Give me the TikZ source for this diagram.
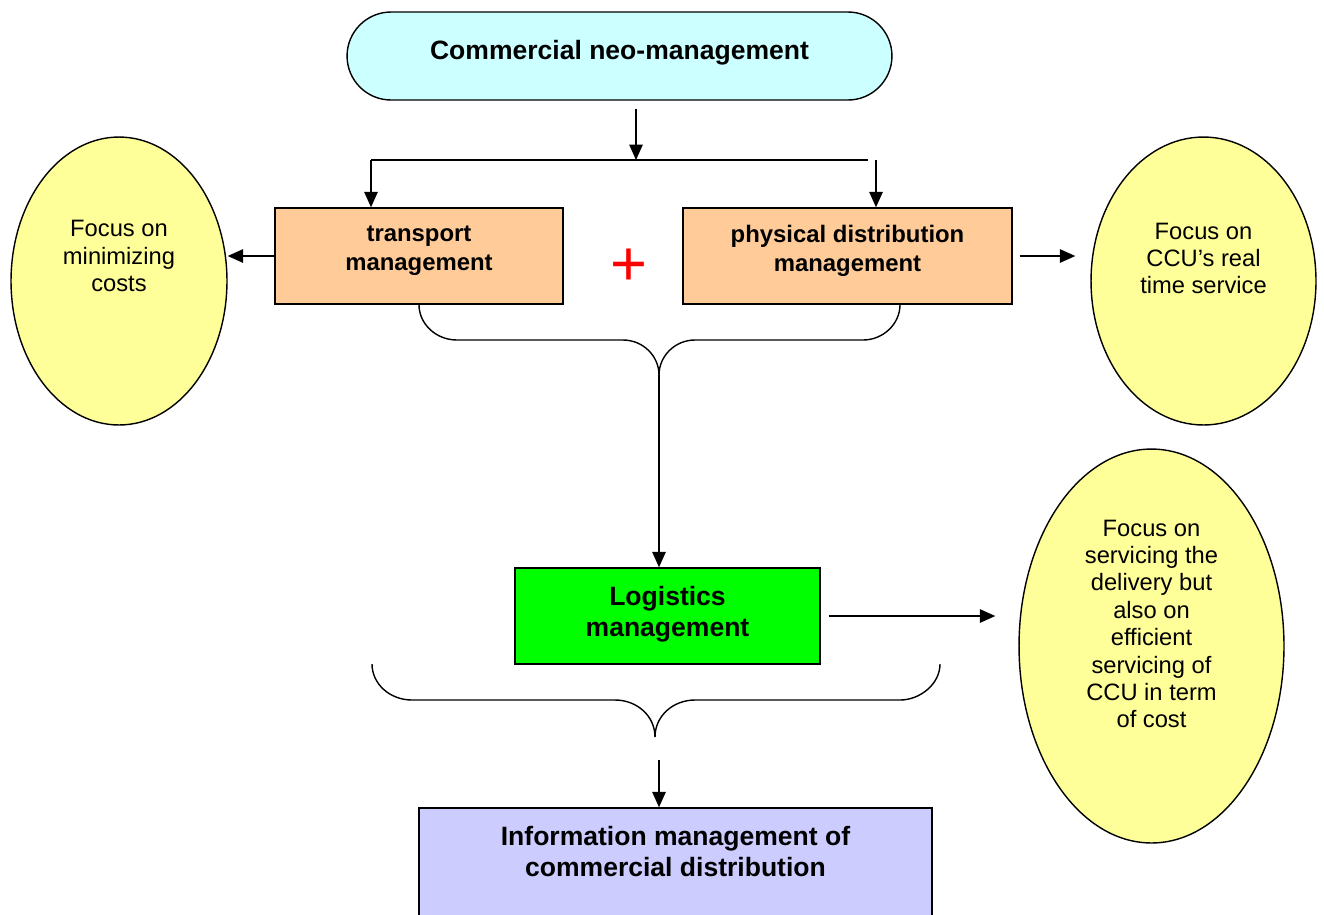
\documentclass[tikz,border=0pt]{standalone}
\usepackage{fontspec}
\setmainfont{Liberation Sans}
\usetikzlibrary{shapes.geometric,arrows.meta,calc}
\definecolor{neoCyan}{HTML}{CCFFFF}
\definecolor{mgmtOrange}{HTML}{FFCC99}
\definecolor{focusYellow}{HTML}{FFFF99}
\definecolor{logGreen}{HTML}{00FF00}
\definecolor{infoBlue}{HTML}{CCCCFF}

\begin{document}
\begin{tikzpicture}[x=0.02cm,y=-0.02cm,
    flow/.style={-{Triangle[length=0.31cm,width=0.27cm]},line width=0.8pt},
    brace/.style={line width=0.8pt},
    mbox/.style={draw,line width=0.8pt,inner sep=0pt,minimum height=1.92cm},
    bubble/.style={draw,ellipse,fill=focusYellow,line width=0.8pt,inner sep=0pt},
    boxtext/.style={font=\fontsize{13.6}{16.5}\selectfont\bfseries,align=center},
    bigtext/.style={font=\fontsize{15.1}{17.6}\selectfont\bfseries,align=center},
    focustext/.style={font=\fontsize{13.5}{15.6}\selectfont,align=center}]
    \clip (0,0) rectangle (1324,914);
    % top
    \node[draw,fill=neoCyan,line width=0.8pt,rounded corners=0.88cm,minimum width=10.9cm,minimum height=1.76cm] (cnm) at (619.5,56) {};
    \node[bigtext] (cnmText) at (619.5,53) {Commercial neo-management};
    % second row
    \node[mbox,fill=mgmtOrange,minimum width=5.76cm] (tpt) at (419,256) {};
    \node[boxtext] (tptText) at (419,250.5) {transport\\management};
    \node[mbox,fill=mgmtOrange,minimum width=6.58cm] (pdm) at (847.5,256) {};
    \node[boxtext] (pdmText) at (847.5,250.5) {physical distribution\\management};
    \node[text=red,font=\fontsize{36}{36}\selectfont,inner sep=0pt] (plus) at (629,267) {+};
    \node[bubble,minimum width=4.32cm,minimum height=5.76cm] (fmc) at (119,281) {};
    \node[focustext] (fmcText) at (119,256) {Focus on\\minimizing\\costs};
    \node[bubble,minimum width=4.5cm,minimum height=5.76cm] (fcs) at (1203.5,281) {};
    \node[focustext] (fcsText) at (1203.5,258.5) {Focus on\\CCU’s real\\time service};
    % logistics
    \node[mbox,fill=logGreen,minimum width=6.1cm] (lgm) at (667.5,616) {};
    \node[bigtext] (lgmText) at (667.5,614.5) {Logistics\\management};
    \node[bubble,minimum width=5.3cm,minimum height=7.88cm] (fsd) at (1151.5,646) {};
    \node[focustext] (fsdText) at (1151.5,624) {Focus on\\servicing the\\delivery but\\also on\\efficient\\servicing of\\CCU in term\\of cost};
    % bottom
    \node[mbox,fill=infoBlue,minimum width=10.26cm,minimum height=2.6cm] (imd) at (675.5,873) {};
    \node[bigtext] (imdText) at (675.5,851.5) {Information management of\\commercial distribution};

    % split under the top
    \coordinate (split) at (636,160);
    \coordinate (splitL) at (371,160);
    \coordinate (splitR) at (868,160);
    \coordinate (dropR) at (876,160);
    \draw[flow,shorten <=0.16cm] (cnm.south -| split) -- (split);
    \draw[line width=0.8pt] (splitL) -- (splitR);
    \draw[flow] (splitL) -- (splitL |- tpt.north);
    \draw[flow] (dropR) -- (dropR |- pdm.north);
    \draw[flow] (tpt.west) -- (tpt.west -| fmc.east);
    \draw[flow,shorten <=0.14cm,shorten >=0.3cm] (pdm.east) -- (pdm.east -| fcs.west);

    % first brace
    \coordinate (tipA) at (659,375);
    \coordinate (braceR) at ($(pdm.south)+(52.5,0)$);
    \draw[brace] (tpt.south) .. controls (419,324) and (436,340) .. (457,340) -- (623,340)
        .. controls (643,340) and (659,356) .. (tipA);
    \draw[brace] (braceR) .. controls (900,324) and (883,340) .. (863,340) -- (695,340)
        .. controls (675,340) and (659,356) .. (tipA);
    \draw[flow] (tipA) -- (tipA |- lgm.north);
    \draw[flow,shorten <=0.16cm,shorten >=0.46cm] (lgm.east) -- (lgm.east -| fsd.west);

    % second brace
    \coordinate (tipB) at (655,737);
    \coordinate (dropB) at (659,760);
    \draw[brace] (372,664) .. controls (372,684) and (390,700) .. (412,700) -- (615,700)
        .. controls (637,700) and (655,716) .. (tipB);
    \draw[brace] (940,664) .. controls (940,684) and (920,700) .. (900,700) -- (695,700)
        .. controls (673,700) and (655,716) .. (tipB);
    \draw[flow] (dropB) -- (dropB |- imd.north);
\end{tikzpicture}
\end{document}
